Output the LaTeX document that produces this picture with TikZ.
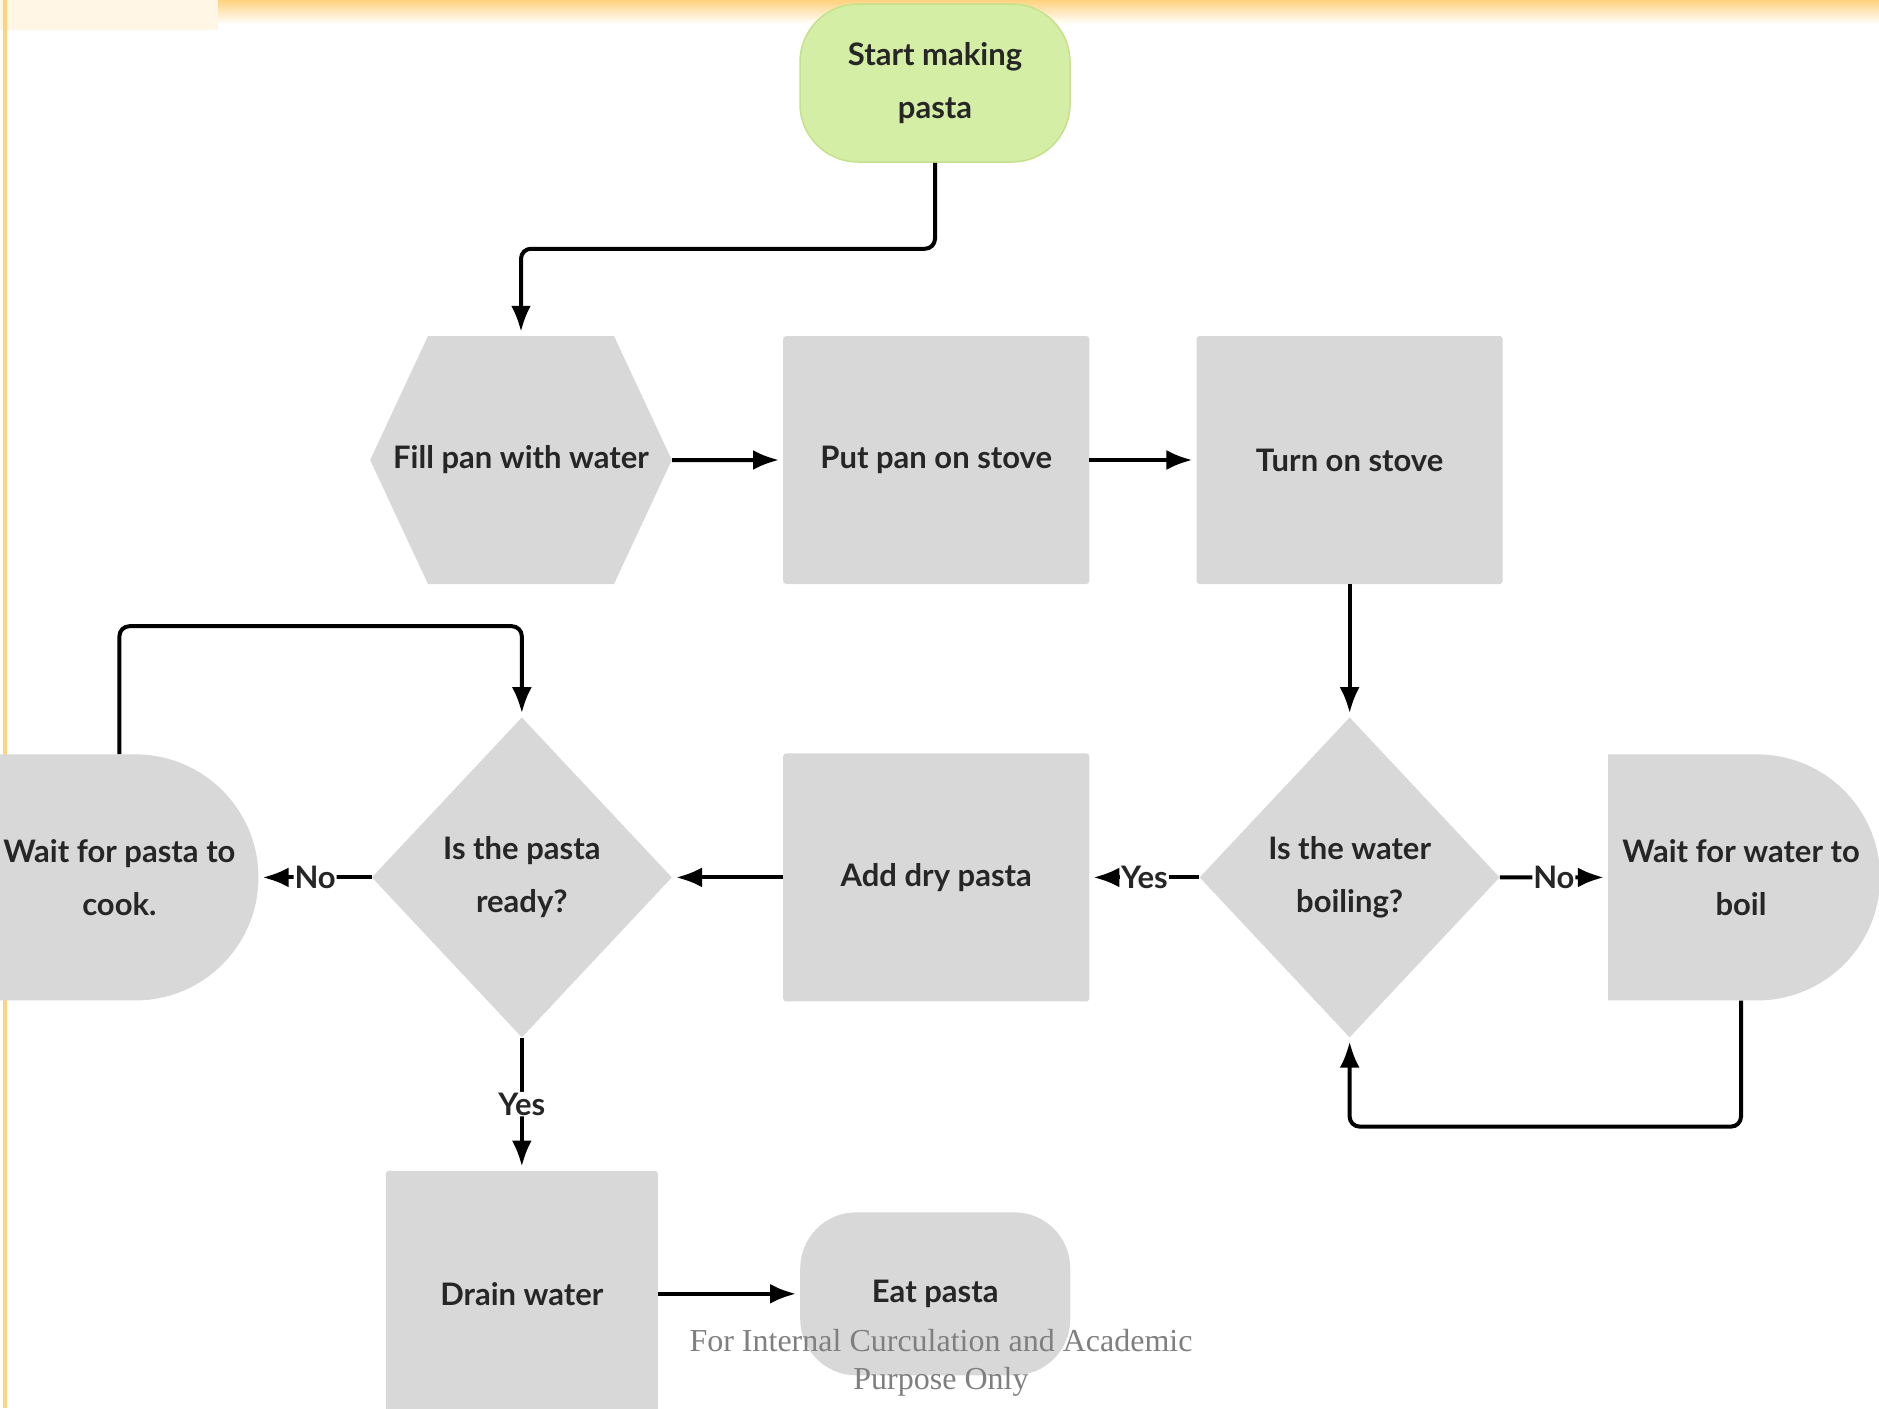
\documentclass[tikz,border=0pt]{standalone}
\usepackage{fontspec}
\setmainfont{Lato}
\newfontfamily\notefont{Liberation Serif}
\usetikzlibrary{positioning,shapes.geometric,shapes.misc,shapes.symbols,arrows.meta}
\definecolor{startC}{HTML}{D5EEA6}
\definecolor{startD}{HTML}{C4E18C}
\definecolor{boxC}{HTML}{D8D8D8}
\definecolor{frameC}{HTML}{FFD27F}
\definecolor{noteC}{HTML}{7F7F7F}
\newcommand{\txt}{\fontsize{31}{53}\selectfont\bfseries}
\newcommand{\hextext}[1]{\makebox[186pt]{#1}}
\tikzset{
  base/.style={fill=boxC, align=center, font=\txt, text=black!85, inner sep=0pt},
  startbox/.style={base, fill=startC, draw=startD, line width=1.5pt, rectangle, rounded corners=58pt,
                   minimum width=270pt, minimum height=158pt},
  endbox/.style={base, rectangle, rounded corners=56pt, minimum width=270pt, minimum height=163pt},
  hexbox/.style={base, signal, signal to=west and east, signal pointer angle=130,
                 minimum height=248pt},
  procbox/.style={base, rectangle, rounded corners=3pt, minimum width=306pt, minimum height=248pt},
  decbox/.style={base, diamond, minimum width=300pt, minimum height=320pt},
  waitbox/.style={base, rounded rectangle, rounded rectangle west arc=none,
                  minimum width=272pt, minimum height=246pt},
  flow/.style={line width=4pt, rounded corners=10pt, shorten >=4pt,
               -{Latex[length=26pt,width=20pt]}},
  lbl/.style={fill=white, font=\txt, inner sep=1pt, text=black!85},
  wmark/.style={font=\notefont\fontsize{32}{38}\selectfont, text=noteC, align=center},
}
\begin{document}
\begin{tikzpicture}[x=1pt,y=1pt]
\useasboundingbox (0,0) rectangle (1879,-1408);
% slide frame
\fill[white] (0,0) rectangle (1879,-1408);
\shade[top color=frameC, bottom color=white] (218,0) rectangle (1879,-24);
\fill[frameC!20] (0,0) rectangle (218,-30);
\fill[frameC] (3,0) rectangle (7,-1408);

\node[startbox] (start) at (935,-83) {Start making\\pasta};
\node[hexbox] (fill) at (521,-460) {\hextext{Fill pan with water}};
\node[procbox, right=111pt of fill] (put) {Put pan on stove};
\node[procbox, right=107pt of put] (turn) {Turn on stove};
\node[decbox, below=133pt of turn] (boil) {Is the water\\boiling?};
\node[procbox, left=110pt of boil] (add) {Add dry pasta};
\node[decbox, left=111pt of add] (ready) {Is the pasta\\ready?};
\node[waitbox, right=108pt of boil] (waitw) {Wait for water to\\boil};
\node[waitbox, left=113pt of ready] (waitp) {Wait for pasta to\\cook.};
\node[procbox, minimum width=272pt, minimum height=246pt, below=133pt of ready] (drain) {Drain water};
\node[endbox, right=142pt of drain] (eat) {Eat pasta};

\draw[flow] (start.south) -- ++(0,-86) -| (fill.north);
\draw[flow] (fill) -- (put);
\draw[flow] (put) -- (turn);
\draw[flow] (turn) -- (boil);
\draw[flow] (boil) -- node[lbl] {Yes} (add);
\draw[flow] (boil) -- node[lbl] {No} (waitw);
\draw[flow] (waitw.south) -- ++(0,-126) -| (boil.south);
\draw[flow] (add) -- (ready);
\draw[flow] (ready) -- node[lbl] {No} (waitp);
\draw[flow] (waitp.north) -- ++(0,128) -| (ready.north);
\draw[flow] (ready) -- node[lbl] {Yes} (drain);
\draw[flow] (drain) -- (eat);

\node[wmark] (wm) at (941,-1363) {For Internal Curculation and Academic\\Purpose Only};
\end{tikzpicture}
\end{document}
